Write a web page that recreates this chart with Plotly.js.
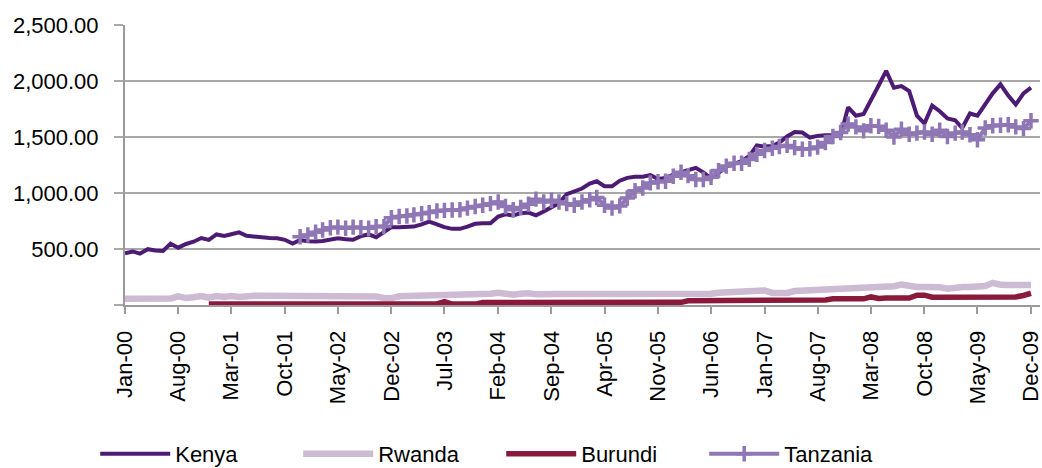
<!DOCTYPE html>
<html>
<head>
<meta charset="utf-8">
<script src="https://cdn.plot.ly/plotly-3.0.1.min.js"></script>
<style>
html,body{margin:0;padding:0;background:#fff;}
#chart{width:1042px;height:468px;}
</style>
</head>
<body>
<div id="chart"></div>
<script>
// Monthly categories Jan-2000 .. Dec-2009
const years = [2000,2001,2002,2003,2004,2005,2006,2007,2008,2009];
const monthNums = ["01","02","03","04","05","06","07","08","09","10","11","12"];
const months = [];
years.forEach(y => monthNums.forEach(m => months.push(y + "-" + m + "-01")));

const kenya = [
 462,478,458,498,486,483,548,512,545,565,598,582,
 630,616,632,648,618,612,598,598,596,582,548,580,
 570,566,572,585,595,588,582,615,630,605,655,695,
 695,695,700,720,745,720,695,680,680,700,725,730,
 730,790,810,800,820,825,800,835,870,910,990,1015,
 1040,1085,1105,1060,1060,1110,1135,1145,1145,1160,1125,1135,
 1165,1185,1205,1225,1185,1130,1180,1235,1260,1285,1330,1425,
 1415,1420,1450,1505,1545,1540,1495,1510,1515,1515,1515,1765,
 1690,1705,1820,1960,2090,1940,1955,1910,1690,1620,1780,1730,
 1665,1650,1580,1710,1690,1790,1890,1970,1870,1790,1890,1940
];
const rwanda = [
 55,55,55,55,55,55,58,78,62,70,80,65,
 80,72,80,72,82,82,82,82,82,82,85,88,
 80,82,82,82,82,82,82,80,80,75,62,60,
 78,80,80,82,82,82,82,82,85,100,98,90,
 100,110,95,92,100,105,95,92,95,98,98,98,
 98,98,95,92,90,90,90,90,92,92,92,92,
 92,92,92,92,95,100,110,112,112,115,130,132,
 130,108,105,108,125,128,128,128,132,140,145,148,
 150,150,152,162,165,168,182,165,160,160,160,158,
 145,158,160,160,162,170,198,180,178,178,178,178
];
const burundi = [
 null,null,null,null,null,null,null,null,null,null,null,10,
 10,10,10,10,10,10,10,10,10,10,10,10,
 10,10,10,10,10,10,10,10,10,10,10,10,
 10,10,10,10,10,10,30,8,8,8,8,22,
 22,22,22,22,22,22,22,22,22,22,22,22,
 22,22,24,24,24,24,24,24,24,24,24,24,
 24,24,38,38,38,38,38,38,38,38,38,38,
 38,38,38,38,38,38,38,38,45,55,55,55,
 55,55,72,58,62,62,62,62,88,88,70,70,
 70,70,70,70,70,70,70,70,70,72,85,105
];
const tanzania = [
 null,null,null,null,null,null,null,null,null,null,null,null,
 null,null,null,null,null,null,null,null,null,null,null,610,
 625,650,670,690,695,685,695,690,685,700,700,780,
 790,795,805,815,825,840,845,848,850,865,880,890,
 905,920,880,850,870,900,945,920,935,920,905,890,
 920,940,960,890,865,885,955,1020,1045,1090,1100,1105,
 1150,1185,1155,1120,1120,1140,1200,1240,1265,1265,1300,1345,
 1380,1400,1415,1425,1405,1390,1395,1410,1450,1505,1540,1615,
 1590,1555,1600,1595,1560,1500,1570,1525,1535,1545,1525,1560,
 1505,1535,1545,1520,1475,1580,1600,1605,1610,1590,1575,1645
];
const seriesNames = ["Kenya","Rwanda","Burundi","Tanzania"];
const yTickVals = [0,500,1000,1500,2000,2500];
const yTickText = ["","500.00","1,000.00","1,500.00","2,000.00","2,500.00"];

const font = "Liberation Sans, Arial, Helvetica, sans-serif";

const traces = [
 {x: months, y: rwanda, name: seriesNames[1], mode: "lines",
  line: {color: "#CDBAD3", width: 6.5}, legendrank: 2},
 {x: months, y: burundi, name: seriesNames[2], mode: "lines",
  line: {color: "#8A1A3C", width: 5.5}, legendrank: 3},
 {x: months, y: kenya, name: seriesNames[0], mode: "lines",
  line: {color: "#4D1B74", width: 4}, legendrank: 1},
 {x: months, y: tanzania, name: seriesNames[3], mode: "lines+markers",
  line: {color: "#8F77B5", width: 4},
  marker: {symbol: "cross-thin", size: 11, color: "#8F77B5", line: {color: "#8F77B5", width: 3.5}},
  legendrank: 4}
];

const layout = {
 width: 1042, height: 468,
 margin: {l: 125, r: 2, t: 25, b: 163},
 paper_bgcolor: "#ffffff", plot_bgcolor: "#ffffff",
 font: {family: font, size: 22, color: "#000000"},
 showlegend: true,
 legend: {orientation: "h", xref: "container", x: 0.481, xanchor: "center",
   yref: "container", y: 0.03, yanchor: "middle",
   font: {family: font, size: 22, color: "#000"}, itemwidth: 70,
   entrywidth: 118, entrywidthmode: "pixels", traceorder: "normal"},
 xaxis: {
   type: "date",
   range: ["2000-01-01", "2010-01-06"],
   tick0: "2000-01-01", dtick: "M7", tickformat: "%b-%y",
   tickangle: -90,
   showgrid: false, zeroline: false,
   showline: true, linecolor: "#9a9a9a", linewidth: 2,
   ticks: "outside", ticklen: 7, tickwidth: 2, tickcolor: "#9a9a9a",
   tickfont: {family: font, size: 22, color: "#000"},
   ticklabelstandoff: 8,
   ticklabeloverflow: "allow",
   automargin: false,
   fixedrange: true
 },
 yaxis: {
   range: [0, 2500],
   tickvals: yTickVals, ticktext: yTickText,
   showgrid: true, gridcolor: "#a8a8a8", gridwidth: 1.5,
   zeroline: false,
   showline: true, linecolor: "#9a9a9a", linewidth: 2,
   ticks: "outside", ticklen: 9, tickwidth: 1.5, tickcolor: "#a8a8a8",
   tickfont: {family: font, size: 22, color: "#000"},
   ticklabelstandoff: 11,
   automargin: false,
   fixedrange: true
 }
};

Plotly.newPlot("chart", traces, layout, {displayModeBar: false, staticPlot: true});
</script>
</body>
</html>
